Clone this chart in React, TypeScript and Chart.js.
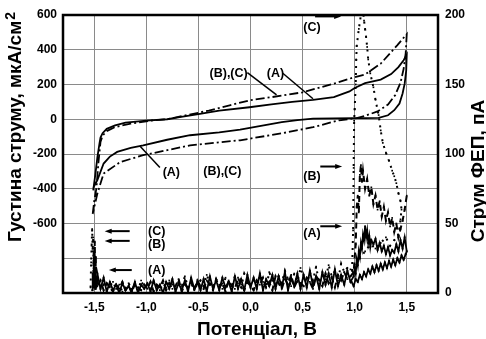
import React, { useEffect, useRef } from 'react';
import { Chart, registerables } from 'chart.js';

Chart.register(...registerables);

const FONT = '"Liberation Sans", Arial, Helvetica, sans-serif';
const GRID = '#8a8a8a';

// ---- axes ----
const xTicks = [-1.5, -1.0, -0.5, 0.0, 0.5, 1.0, 1.5];
const jTicks = [-1000, -800, -600, -400, -200, 0, 200, 400, 600];
const jLabelled = [-600, -400, -200, 0, 200, 400, 600];
const pTicks = [0, 50, 100, 150, 200];

// ---- cyclic voltammograms (left axis, µA/cm²) ----
// (A) solid loop
const cvAV = [-1.51, -1.49, -1.47, -1.45, -1.44, -1.42, -1.38, -1.30, -1.20, -1.00, -0.80, -0.68, -0.50, -0.30, -0.01, 0.20, 0.40, 0.60, 0.80, 0.95, 1.00, 1.10, 1.25, 1.35, 1.42, 1.47, 1.50,
  1.495, 1.48, 1.46, 1.43, 1.38, 1.32, 1.23, 1.10, 1.00, 0.80, 0.60, 0.45, 0.30, 0.10, -0.10, -0.30, -0.58, -0.80, -1.03, -1.15, -1.28, -1.35, -1.41, -1.47, -1.51];
const cvAJ = [-410, -320, -220, -140, -105, -80, -55, -35, -20, -8, 0, 12, 30, 50, 69, 85, 100, 112, 127, 160, 180, 208, 228, 260, 300, 340, 372,
  282, 205, 148, 90, 52, 23, 8, 7, 7, 5, 4, -5, -17, -38, -60, -75, -92, -118, -150, -165, -188, -215, -255, -350, -395];
// (B),(C) dash-dot loop
const cvBCV = [-1.515, -1.50, -1.48, -1.46, -1.44, -1.42, -1.38, -1.30, -1.15, -0.96, -0.80, -0.60, -0.40, -0.20, 0.00, 0.20, 0.50, 0.80, 0.97, 1.10, 1.25, 1.41, 1.50,
  1.49, 1.47, 1.44, 1.39, 1.32, 1.22, 1.10, 1.02, 0.85, 0.60, 0.30, -0.10, -0.58, -1.03, -1.25, -1.41, -1.47, -1.515];
const cvBCJ = [-545, -470, -400, -250, -130, -95, -68, -45, -25, -8, 0, 25, 50, 80, 110, 127, 155, 205, 237, 258, 320, 427, 490,
  380, 290, 210, 140, 85, 45, 20, 6, -6, -46, -81, -121, -150, -207, -246, -312, -428, -545];

// ---- photocurrent (right axis, pA) ----
const noiseV = [
  -1.47, -1.44, -1.41, -1.38, -1.35, -1.32, -1.29, -1.26, -1.23, -1.20, -1.17, -1.14, -1.11, -1.08, -1.05, -1.02,
  -0.99, -0.96, -0.93, -0.90, -0.87, -0.84, -0.81, -0.78, -0.75, -0.72, -0.69, -0.66, -0.63, -0.60, -0.57, -0.54, -0.51,
  -0.48, -0.45, -0.42, -0.39, -0.36, -0.33, -0.30, -0.27, -0.24, -0.21, -0.18, -0.15, -0.12, -0.09, -0.06, -0.03, 0.00,
  0.03, 0.06, 0.09, 0.12, 0.15, 0.18, 0.21, 0.24, 0.27, 0.30, 0.33, 0.36, 0.39, 0.42, 0.45, 0.48,
  0.51, 0.54, 0.57, 0.60, 0.63, 0.66, 0.69, 0.72, 0.75, 0.78, 0.81, 0.84, 0.87, 0.90, 0.93, 0.96,
];
const noiseA = [
  14, 3, 11, 1, 8, 2, 6, 0, 7, 2, 5, 1, 8, 0, 6, 3,
  7, 1, 9, 2, 6, 0, 8, 3, 10, 1, 7, 2, 9, 1, 11, 3, 8,
  2, 10, 1, 12, 3, 9, 2, 11, 4, 8, 1, 12, 3, 10, 2, 13, 4,
  11, 3, 14, 2, 10, 5, 13, 3, 12, 4, 15, 2, 11, 5, 14, 3,
  13, 4, 16, 5, 12, 3, 15, 6, 14, 4, 17, 5, 13, 6, 16, 8,
];
const noiseB = [
  5, 9, 2, 7, 4, 1, 6, 3, 8, 2, 5, 0, 7, 4, 2, 6,
  3, 8, 1, 6, 4, 9, 2, 7, 3, 5, 10, 1, 6, 4, 8, 2, 9,
  5, 3, 9, 6, 2, 10, 4, 7, 1, 9, 5, 3, 11, 6, 2, 8, 5,
  2, 9, 6, 11, 4, 8, 2, 12, 7, 3, 10, 6, 13, 4, 9, 7,
  5, 11, 8, 3, 12, 9, 5, 14, 7, 11, 4, 13, 9, 15, 10, 12,
];
const noiseC = [
  9, 4, 6, 2, 5, 8, 3, 6, 1, 4, 7, 3, 5, 2, 9, 4,
  6, 3, 8, 5, 2, 7, 4, 9, 6, 3, 8, 5, 12, 4, 7, 3, 6,
  9, 5, 13, 7, 4, 10, 6, 3, 11, 8, 5, 12, 7, 4, 14, 9, 6,
  10, 5, 13, 8, 4, 15, 9, 6, 12, 7, 16, 10, 5, 14, 8, 18,
  11, 6, 15, 9, 19, 7, 13, 10, 20, 12, 16, 9, 21, 15, 18, 17,
];
// cathodic spike near -1.5 V
const spikeAV = [-1.52, -1.515, -1.51, -1.505, -1.50, -1.495, -1.49, -1.485, -1.48, -1.475];
const spikeAP = [2, 14, 4, 18, 6, 15, 3, 12, 5, 9];
const spikeBV = [-1.51, -1.505, -1.50, -1.495, -1.49, -1.485, -1.48, -1.475];
const spikeBP = [5, 30, 12, 37, 8, 26, 4, 11];
const spikeCV = [-1.535, -1.53, -1.525, -1.52, -1.515, -1.51, -1.505, -1.50, -1.49, -1.48];
const spikeCP = [4, 22, 34, 46, 30, 40, 18, 28, 10, 7];
// anodic region (A)
const aHighV = [0.99, 1.00, 1.01, 1.02, 1.03, 1.04, 1.05, 1.06, 1.07, 1.08, 1.09, 1.10, 1.11, 1.12, 1.13, 1.14, 1.15, 1.16, 1.18, 1.20, 1.22, 1.24, 1.26, 1.28, 1.30, 1.32, 1.34, 1.36, 1.38, 1.40, 1.42, 1.44, 1.46, 1.48, 1.50,
  1.49, 1.47, 1.45, 1.43, 1.41, 1.39, 1.37, 1.35, 1.33, 1.31, 1.29, 1.27, 1.25, 1.23, 1.21, 1.19, 1.17, 1.15, 1.13, 1.11, 1.09, 1.07, 1.05, 1.03, 1.01, 0.99, 0.97];
const aHighP = [12, 18, 14, 24, 20, 30, 26, 36, 32, 42, 38, 48, 40, 45, 36, 41, 33, 38, 35, 39, 31, 36, 30, 34, 28, 33, 27, 31, 29, 35, 30, 38, 32, 40, 30,
  28, 24, 27, 22, 25, 20, 24, 19, 23, 18, 22, 17, 21, 16, 20, 15, 19, 14, 17, 12, 15, 10, 13, 8, 10, 5, 8];
// anodic region (B)
const bHighV = [0.99, 1.01, 1.02, 1.03, 1.04, 1.05, 1.06, 1.07, 1.08, 1.10, 1.12, 1.14, 1.16, 1.18, 1.20, 1.22, 1.24, 1.26, 1.28, 1.30, 1.32, 1.34, 1.36, 1.38, 1.40, 1.42, 1.44, 1.46, 1.48, 1.50];
const bHighP = [15, 35, 62, 70, 58, 85, 92, 80, 88, 75, 82, 70, 76, 64, 70, 60, 66, 55, 62, 52, 58, 48, 54, 44, 50, 40, 46, 52, 60, 70];
// anodic region (C)
const cHighV = [0.975, 0.985, 0.99, 0.995, 1.00, 1.01, 1.015, 1.02, 1.04, 1.06, 1.075, 1.09, 1.10, 1.11, 1.12, 1.13, 1.15, 1.18, 1.20, 1.23, 1.25, 1.27, 1.30, 1.33, 1.36, 1.38, 1.40, 1.42, 1.44, 1.45, 1.44, 1.43, 1.42,
  1.38, 1.34, 1.30, 1.25, 1.20, 1.15, 1.10, 1.05, 1.00];
const cHighP = [16, 45, 90, 124, 132, 150, 168, 178, 190, 200, 206, 196, 190, 184, 177, 168, 158, 148, 139, 128, 117, 108, 101, 95, 88, 84, 79, 72, 66, 60, 53, 46, 40,
  38, 34, 40, 36, 32, 35, 30, 25, 18];

// ---- annotations ----
const cvLabels = [
  { text: '(B),(C)', v: -0.21, j: 265 },
  { text: '(A)', v: 0.24, j: 265 },
  { text: '(A)', v: -0.76, j: -305 },
  { text: '(B),(C)', v: -0.27, j: -300 },
];
const cvLeaders = [
  { v1: -0.03, j1: 268, v2: 0.25, j2: 140 },
  { v1: 0.31, j1: 265, v2: 0.6, j2: 118 },
  { v1: -0.87, j1: -278, v2: -1.06, j2: -155 },
];
const pcLabels = [
  { text: '(C)', v: 0.59, p: 191 },
  { text: '(B)', v: 0.59, p: 84 },
  { text: '(A)', v: 0.59, p: 43 },
  { text: '(C)', v: -0.9, p: 44 },
  { text: '(B)', v: -0.9, p: 34.5 },
  { text: '(A)', v: -0.9, p: 16.5 },
];
const pcArrows = [
  { v1: 0.62, v2: 0.87, p: 199 },
  { v1: 0.67, v2: 0.88, p: 91 },
  { v1: 0.67, v2: 0.88, p: 48 },
  { v1: -1.16, v2: -1.40, p: 44.5 },
  { v1: -1.16, v2: -1.40, p: 37.5 },
  { v1: -1.14, v2: -1.36, p: 16.5 },
];

const yTitle = 'Густина струму, мкА/см';
const yTitleSup = '2';
const y1Title = 'Струм ФЕП, пА';
const xTitle = 'Потенціал, В';

const pts = (xs: number[], ys: number[]) => xs.map((x, i) => ({ x, y: ys[i] }));

const decor = {
  id: 'decor',
  afterDraw(chart: any) {
    const { ctx, chartArea: a, scales } = chart;
    const sx = scales.x, sy = scales.y, sp = scales.y1;
    ctx.save();
    // frame
    ctx.strokeStyle = '#000';
    ctx.lineWidth = 2.5;
    ctx.strokeRect(a.left, a.top, a.right - a.left, a.bottom - a.top);

    // labels
    ctx.fillStyle = '#000';
    ctx.font = `bold 12.5px ${FONT}`;
    ctx.textAlign = 'center';
    ctx.textBaseline = 'middle';
    cvLabels.forEach((l) => ctx.fillText(l.text, sx.getPixelForValue(l.v), sy.getPixelForValue(l.j)));
    pcLabels.forEach((l) => ctx.fillText(l.text, sx.getPixelForValue(l.v), sp.getPixelForValue(l.p)));

    // leaders
    ctx.lineWidth = 1.5;
    cvLeaders.forEach((l) => {
      ctx.beginPath();
      ctx.moveTo(sx.getPixelForValue(l.v1), sy.getPixelForValue(l.j1));
      ctx.lineTo(sx.getPixelForValue(l.v2), sy.getPixelForValue(l.j2));
      ctx.stroke();
    });
    // arrows
    pcArrows.forEach((r) => {
      const x1 = sx.getPixelForValue(r.v1), x2 = sx.getPixelForValue(r.v2);
      const y = sp.getPixelForValue(r.p);
      const dir = Math.sign(x2 - x1);
      ctx.lineWidth = 2;
      ctx.beginPath();
      ctx.moveTo(x1, y);
      ctx.lineTo(x2 - dir * 5, y);
      ctx.stroke();
      ctx.beginPath();
      ctx.moveTo(x2, y);
      ctx.lineTo(x2 - dir * 7, y - 2.5);
      ctx.lineTo(x2 - dir * 7, y + 2.5);
      ctx.closePath();
      ctx.fill();
    });

    // axis titles
    ctx.textBaseline = 'alphabetic';
    ctx.font = `bold 19px ${FONT}`;
    const w1 = ctx.measureText(yTitle).width;
    ctx.font = `bold 14px ${FONT}`;
    const w2 = ctx.measureText(yTitleSup).width;
    const total = w1 + w2 + 1;
    ctx.save();
    ctx.translate(21, 127 + total / 2);
    ctx.rotate(-Math.PI / 2);
    ctx.textAlign = 'left';
    ctx.font = `bold 19px ${FONT}`;
    ctx.fillText(yTitle, 0, 0);
    ctx.font = `bold 14px ${FONT}`;
    ctx.fillText(yTitleSup, w1 + 1, -6);
    ctx.restore();

    ctx.save();
    ctx.translate(484, 171);
    ctx.rotate(-Math.PI / 2);
    ctx.textAlign = 'center';
    ctx.font = `bold 19px ${FONT}`;
    ctx.fillText(y1Title, 0, 0);
    ctx.restore();

    ctx.textAlign = 'center';
    ctx.font = `bold 19px ${FONT}`;
    ctx.fillText(xTitle, 257, 335);
    ctx.restore();
  },
};

export default function App() {
  const ref = useRef<HTMLCanvasElement>(null);
  useEffect(() => {
    const tickFont = { family: FONT, size: 12, weight: 'bold' as const };
    const noisy = { yAxisID: 'y1', showLine: true, borderColor: '#000', backgroundColor: '#000', pointBorderWidth: 0, pointStyle: 'rect' as const };
    const chart = new Chart(ref.current!, {
      type: 'scatter',
      data: {
        datasets: [
          { data: pts(cvAV, cvAJ), yAxisID: 'y', showLine: true, borderColor: '#000', borderWidth: 1.8, pointRadius: 0, tension: 0 },
          { data: pts(cvBCV, cvBCJ), yAxisID: 'y', showLine: true, borderColor: '#000', borderWidth: 1.8, borderDash: [9, 3, 2, 3], pointRadius: 0 },
          { ...noisy, data: [...pts(spikeAV, spikeAP), ...pts(noiseV, noiseA), ...pts(aHighV, aHighP)], borderWidth: 1.8, pointRadius: 1.3 },
          { ...noisy, data: [...pts(spikeBV, spikeBP), ...pts(noiseV, noiseB), ...pts(bHighV, bHighP)], borderWidth: 2, borderDash: [6, 4], pointRadius: 1.2 },
          { ...noisy, data: [...pts(spikeCV, spikeCP), ...pts(noiseV, noiseC), ...pts(cHighV, cHighP)], borderWidth: 2, borderDash: [2, 5], pointRadius: 1.2 },
        ],
      },
      options: {
        animation: false,
        responsive: false,
        devicePixelRatio: 1,
        layout: { padding: { top: 15, left: 0, right: 0, bottom: 0 } },
        plugins: { legend: { display: false }, tooltip: { enabled: false } },
        scales: {
          x: {
            type: 'linear', min: -1.8, max: 1.8,
            afterBuildTicks: (s: any) => { s.ticks = xTicks.map((value) => ({ value })); },
            afterFit: (s: any) => { s.height = 46; },
            grid: { color: GRID, lineWidth: 1, drawTicks: false },
            border: { display: false },
            ticks: { font: tickFont, color: '#000', padding: 7, maxRotation: 0, autoSkip: false,
              callback: (v: any) => Number(v).toFixed(1).replace('.', ',') },
          },
          y: {
            type: 'linear', position: 'left', min: -1000, max: 600,
            afterBuildTicks: (s: any) => { s.ticks = jTicks.map((value) => ({ value })); },
            afterFit: (s: any) => { s.width = 63; },
            grid: { color: GRID, lineWidth: 1, drawTicks: false },
            border: { display: false },
            ticks: { font: tickFont, color: '#000', padding: 6, autoSkip: false,
              callback: (v: any) => (jLabelled.includes(Number(v)) ? String(v) : '') },
          },
          y1: {
            type: 'linear', position: 'right', min: 0, max: 200,
            afterBuildTicks: (s: any) => { s.ticks = pTicks.map((value) => ({ value })); },
            afterFit: (s: any) => { s.width = 48; },
            grid: { display: false, drawTicks: false },
            border: { display: false },
            ticks: { font: tickFont, color: '#000', padding: 7, autoSkip: false },
          },
        },
      },
      plugins: [decor],
    } as any);
    return () => chart.destroy();
  }, []);
  return (
    <div style={{ position: 'fixed', left: 0, top: 0, width: 486, height: 339, background: '#fff' }}>
      <canvas ref={ref} width={486} height={339} style={{ display: 'block', width: 486, height: 339 }} />
    </div>
  );
}
